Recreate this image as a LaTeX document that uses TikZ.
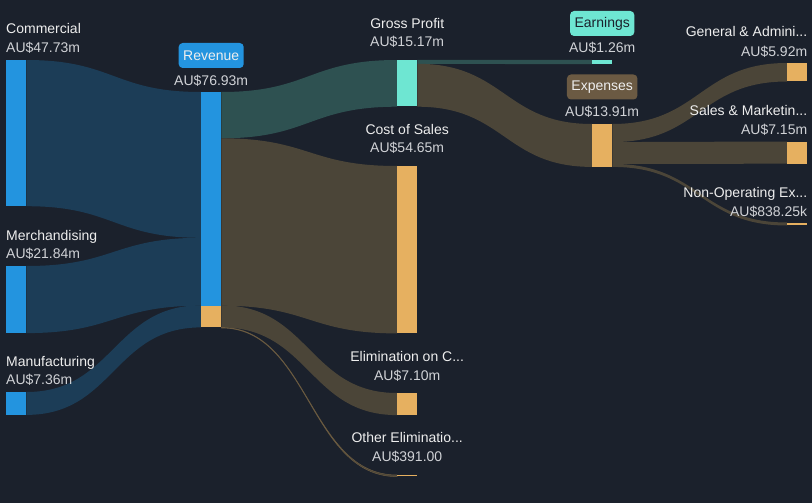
\documentclass[tikz,border=0pt]{standalone}
\usepackage{fontspec}
\setmainfont{Liberation Sans}
\usetikzlibrary{calc}

\definecolor{bgcol}{HTML}{1B212C}
\definecolor{barblue}{HTML}{2394DF}
\definecolor{barteal}{HTML}{6EE6D2}
\definecolor{barorange}{HTML}{E6B060}
\definecolor{bandblue}{HTML}{1C3D57}
\definecolor{bandteal}{HTML}{2E5151}
\definecolor{bandbrown}{HTML}{4B4538}
\definecolor{tagbrown}{HTML}{6B5A43}
\definecolor{txtcol}{HTML}{EEEEEE}
\definecolor{valcol}{HTML}{D0D2D6}

\pgfdeclarelayer{back}
\pgfdeclarelayer{flows}
\pgfsetlayers{back,flows,main}

\tikzset{
  bar/.style={rectangle, inner sep=0pt, minimum width=20pt, anchor=north west},
  lbl/.style={text=txtcol, font=\fontsize{14}{16}\selectfont, inner sep=0pt},
  val/.style={lbl, text=valcol},
  tag/.style={rounded corners=4pt, font=\fontsize{14}{16}\selectfont,
    inner xsep=4.5pt, inner ysep=0pt, minimum height=25pt}
}

% band between two bars: colour, top/bottom at source, top/bottom at target
\newcommand{\flow}[5]{%
  \fill[#1] let \p1=#2, \p2=#3, \p3=#4, \p4=#5, \n1={0.5*(\x1+\x3)} in
    (\p1) .. controls (\n1,\y1) and (\n1,\y3) .. (\p3) -- (\p4)
    .. controls (\n1,\y4) and (\n1,\y2) .. (\p2) -- cycle;}

\begin{document}
\begin{tikzpicture}[x=1pt, y=-1pt]
  \begin{pgfonlayer}{back}
    \fill[bgcol] (0,0) rectangle (812,503);
  \end{pgfonlayer}

  % bars
  \node[bar, fill=barblue, minimum height=145.8pt] (com) at (6,60) {};
  \node[bar, fill=barblue, minimum height=66.7pt] (mer) at (6,266) {};
  \node[bar, fill=barblue, minimum height=22.5pt] (man) at (6,392) {};
  \node[bar, fill=barblue, minimum height=213.3pt] (rev) at (201,92) {};
  \node[bar, fill=barorange, minimum height=21.7pt] (revx) at (201,305.3) {};
  \node[bar, fill=barteal, minimum height=46.3pt] (gp) at (397,60) {};
  \node[bar, fill=barorange, minimum height=167pt] (cos) at (397,166) {};
  \node[bar, fill=barorange, minimum height=21.7pt] (eli) at (397,393) {};
  \node[bar, fill=barorange, minimum height=1.2pt] (oth) at (397,475) {};
  \node[bar, fill=barteal, minimum height=3.8pt] (ear) at (592,60) {};
  \node[bar, fill=barorange, minimum height=42.5pt] (exp) at (592,124) {};
  \node[bar, fill=barorange, minimum height=18.1pt] (gna) at (787,63) {};
  \node[bar, fill=barorange, minimum height=21.8pt] (snm) at (787,141.5) {};
  \node[bar, fill=barorange, minimum height=2.6pt] (nop) at (787,222.5) {};

  % flows
  \begin{pgfonlayer}{flows}
    \flow{bandblue}{(com.north east)}{(com.south east)}
      {(rev.north west)}{($(rev.north west)+(0,145.8)$)}
    \flow{bandblue}{(mer.north east)}{(mer.south east)}
      {($(rev.north west)+(0,145.8)$)}{(rev.south west)}
    \flow{bandblue}{(man.north east)}{(man.south east)}
      {(revx.north west)}{(revx.south west)}
    \flow{bandteal}{(rev.north east)}{($(rev.north east)+(0,46.3)$)}
      {(gp.north west)}{(gp.south west)}
    \flow{bandbrown}{($(rev.north east)+(0,46.3)$)}{(rev.south east)}
      {(cos.north west)}{(cos.south west)}
    \flow{bandbrown}{(revx.north east)}{(revx.south east)}
      {(eli.north west)}{(eli.south west)}
    \flow{bandbrown, draw=bandbrown!80!barorange, line width=0.5pt}{(revx.south east)}{($(revx.south east)+(0,0.6)$)}
      {(oth.north west)}{(oth.south west)}
    \flow{bandteal}{(gp.north east)}{($(gp.north east)+(0,3.8)$)}
      {(ear.north west)}{(ear.south west)}
    \flow{bandbrown}{($(gp.north east)+(0,3.8)$)}{(gp.south east)}
      {(exp.north west)}{(exp.south west)}
    \flow{bandbrown}{(exp.north east)}{($(exp.north east)+(0,18.1)$)}
      {(gna.north west)}{(gna.south west)}
    \flow{bandbrown}{($(exp.north east)+(0,18.1)$)}{($(exp.north east)+(0,39.9)$)}
      {(snm.north west)}{(snm.south west)}
    \flow{bandbrown}{($(exp.north east)+(0,39.9)$)}{(exp.south east)}
      {(nop.north west)}{(nop.south west)}
  \end{pgfonlayer}

  % left column labels
  \node[lbl, anchor=base west] (com-l) at ($(com.north west)+(0,-26)$) {Commercial};
  \node[val, anchor=base west] (com-v) at ($(com.north west)+(0,-7.5)$) {AU\$47.73m};
  \node[lbl, anchor=base west] (mer-l) at ($(mer.north west)+(0,-26)$) {Merchandising};
  \node[val, anchor=base west] (mer-v) at ($(mer.north west)+(0,-7.5)$) {AU\$21.84m};
  \node[lbl, anchor=base west] (man-l) at ($(man.north west)+(0,-26)$) {Manufacturing};
  \node[val, anchor=base west] (man-v) at ($(man.north west)+(0,-7.5)$) {AU\$7.36m};

  % revenue
  \node[tag, fill=barblue, text=txtcol] (rev-l) at ($(rev.north)+(0,-36.5)$) {Revenue};
  \node[val, anchor=base] (rev-v) at ($(rev.north)+(0,-7)$) {AU\$76.93m};

  % middle column labels
  \node[lbl, anchor=base] (gp-l) at ($(gp.north)+(0,-31.5)$) {Gross Profit};
  \node[val, anchor=base] (gp-v) at ($(gp.north)+(0,-13)$) {AU\$15.17m};
  \node[lbl, anchor=base] (cos-l) at ($(cos.north)+(0,-31.5)$) {Cost of Sales};
  \node[val, anchor=base] (cos-v) at ($(cos.north)+(0,-13)$) {AU\$54.65m};
  \node[lbl, anchor=base] (eli-l) at ($(eli.north)+(0,-32)$) {Elimination on C...};
  \node[val, anchor=base] (eli-v) at ($(eli.north)+(0,-13)$) {AU\$7.10m};
  \node[lbl, anchor=base] (oth-l) at ($(oth.north)+(0,-32.5)$) {Other Eliminatio...};
  \node[val, anchor=base] (oth-v) at ($(oth.north)+(0,-13.5)$) {AU\$391.00};

  % earnings and expenses
  \node[tag, fill=barteal, text=bgcol] (ear-l) at ($(ear.north)+(0,-36.5)$) {Earnings};
  \node[val, anchor=base] (ear-v) at ($(ear.north)+(0,-7)$) {AU\$1.26m};
  \node[tag, fill=tagbrown, text=txtcol] (exp-l) at ($(exp.north)+(0,-37)$) {Expenses};
  \node[val, anchor=base] (exp-v) at ($(exp.north)+(0,-7)$) {AU\$13.91m};

  % right column labels
  \node[lbl, anchor=base east] (gna-l) at ($(gna.north east)+(0,-26)$) {General \& Admini...};
  \node[val, anchor=base east] (gna-v) at ($(gna.north east)+(0,-6.5)$) {AU\$5.92m};
  \node[lbl, anchor=base east] (snm-l) at ($(snm.north east)+(0,-26)$) {Sales \& Marketin...};
  \node[val, anchor=base east] (snm-v) at ($(snm.north east)+(0,-7)$) {AU\$7.15m};
  \node[lbl, anchor=base east] (nop-l) at ($(nop.north east)+(0,-25.5)$) {Non-Operating Ex...};
  \node[val, anchor=base east] (nop-v) at ($(nop.north east)+(0,-6.5)$) {AU\$838.25k};
\end{tikzpicture}
\end{document}
